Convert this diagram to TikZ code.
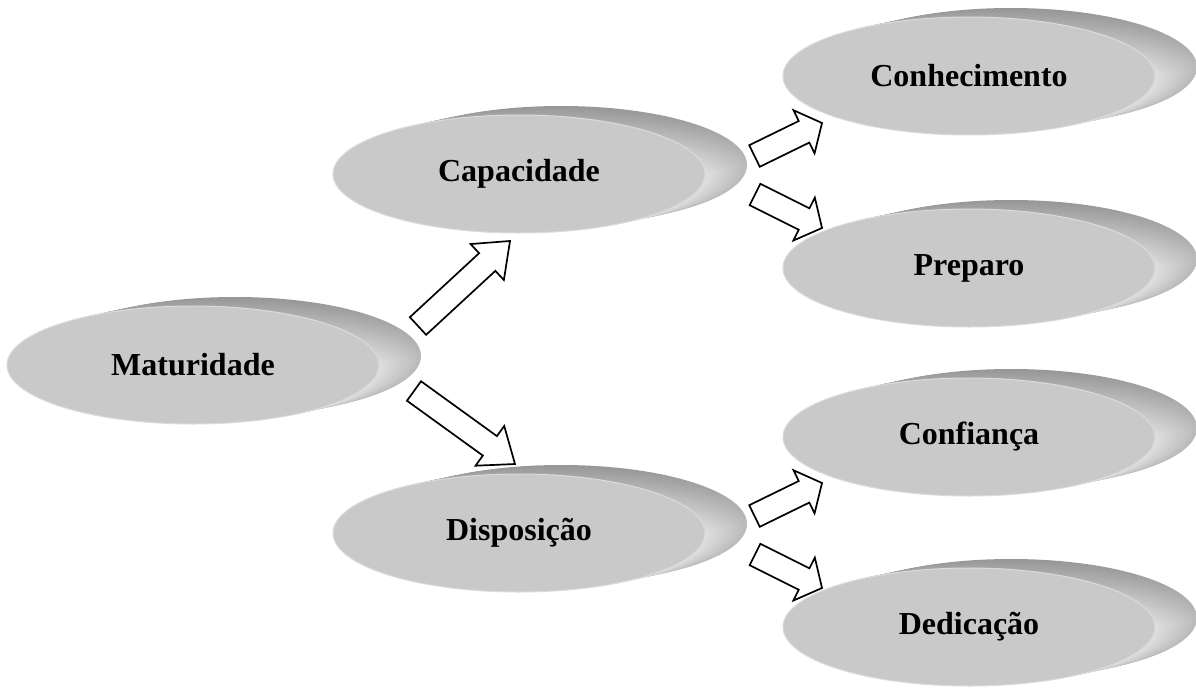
\documentclass[tikz,border=0pt]{standalone}
\usepackage{fontspec}
\setmainfont{Liberation Serif}
\usetikzlibrary{calc,shapes.geometric}
\definecolor{frontgray}{RGB}{201,201,201}
\tikzset{
  bubble/.style={ellipse, fill=frontgray, draw=gray!28, line width=1pt,
    minimum width=372pt, minimum height=118pt, inner sep=0pt,
    font=\fontsize{32}{38}\selectfont\bfseries},
  arrowbox/.style={draw=black, fill=white, line width=1.7pt, line join=miter},
}
\newcommand\bubbleback[1]{%
  \foreach \i in {0,...,9}{%
    \pgfmathsetmacro\bbT{1-\i/10}%
    \pgfmathsetmacro\bbTop{70+12*\bbT}%
    \pgfmathsetmacro\bbMid{24+29*\bbT}%
    \shade[top color=gray!\bbTop, bottom color=gray!\bbMid, middle color=gray!\bbMid]
      ($(#1)+(42*\bbT,-9*\bbT)$) ellipse (186 and 59);
  }}
% #1 tail, #2 tip, #3 shaft half width, #4 head half width, #5 head length
\newcommand\blockarrow[5]{%
  \draw[arrowbox] ($(#1)!#3!90:(#2)$) -- ($(#2)!#5!(#1)!#3!-90:(#1)$)
    -- ($(#2)!#5!(#1)!#4!-90:(#1)$) -- (#2)
    -- ($(#2)!#5!(#1)!#4!90:(#1)$) -- ($(#2)!#5!(#1)!#3!90:(#1)$)
    -- ($(#1)!#3!-90:(#2)$) -- cycle;}
\begin{document}
\begin{tikzpicture}[x=1pt,y=-1pt]
\useasboundingbox (0,0) rectangle (1196,688);
% centres
\coordinate (cMat) at (193,365);
\coordinate (cCap) at (519,174);
\coordinate (cDis) at (519,533);
\coordinate (cCon) at (969,76);
\coordinate (cPre) at (969,268);
\coordinate (cCnf) at (969,437);
\coordinate (cDed) at (969,627);
% bubbles
\bubbleback{cMat}\node[bubble] (mat) at (cMat) {Maturidade};
\bubbleback{cCap}\node[bubble] (cap) at (cCap) {Capacidade};
\bubbleback{cDis}\node[bubble] (dis) at (cDis) {Disposição};
\bubbleback{cCon}\node[bubble] (con) at (cCon) {Conhecimento};
\bubbleback{cPre}\node[bubble] (pre) at (cPre) {Preparo};
\bubbleback{cCnf}\node[bubble] (cnf) at (cCnf) {Confiança};
\bubbleback{cDed}\node[bubble] (ded) at (cDed) {Dedicação};
% arrow ends
\coordinate (a1s) at (418,326);   \coordinate (a1e) at (510,241);
\coordinate (a2s) at (414,391);   \coordinate (a2e) at (515,464);
\coordinate (a3s) at (754.5,156); \coordinate (a3e) at (822,123);
\coordinate (a4s) at (755,194.5); \coordinate (a4e) at (822,228);
\coordinate (a5s) at (754.5,516); \coordinate (a5e) at (822,483);
\coordinate (a6s) at (755,554.5); \coordinate (a6e) at (822,588);
\blockarrow{a1s}{a1e}{12pt}{24.5pt}{31pt}
\blockarrow{a2s}{a2e}{12pt}{24.5pt}{31pt}
\blockarrow{a3s}{a3e}{12pt}{24pt}{20pt}
\blockarrow{a4s}{a4e}{12pt}{24pt}{20pt}
\blockarrow{a5s}{a5e}{12pt}{24pt}{20pt}
\blockarrow{a6s}{a6e}{12pt}{24pt}{20pt}
\end{tikzpicture}
\end{document}
